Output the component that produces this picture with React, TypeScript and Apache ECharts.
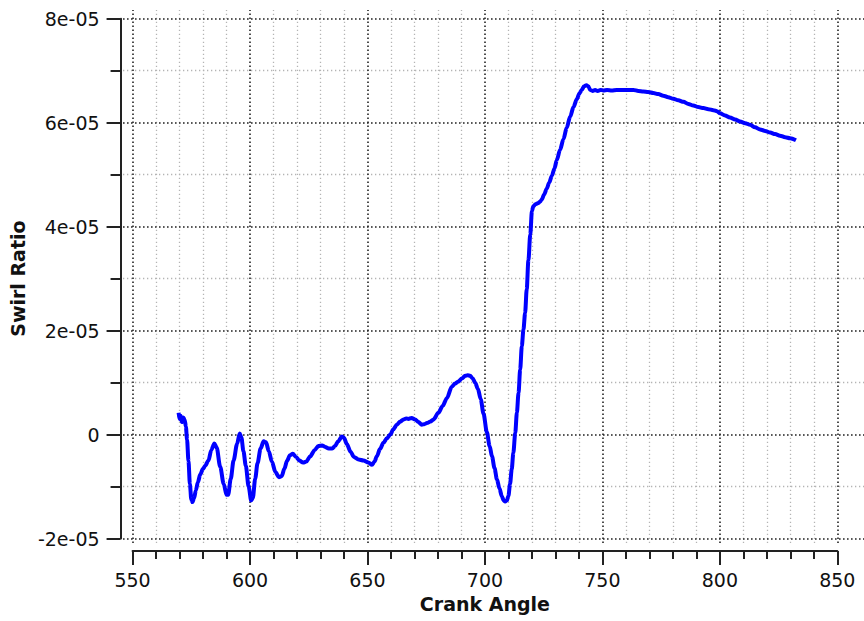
import { useEffect, useRef } from 'react';
import * as echarts from 'echarts';

const crankAngle = [
  569.6, 570.0, 570.5, 571.0, 571.6, 572.2, 572.7, 573.2, 573.8, 574.4, 575.0, 575.5, 576.2, 576.9, 577.8, 578.8,
  580.0, 580.9, 582.3, 583.5, 584.8, 585.8, 587.3, 588.8, 590.0, 590.7, 591.8, 593.0, 594.5, 595.6, 596.3, 597.2,
  598.2, 599.4, 600.5, 601.2, 602.2, 603.2, 604.5, 605.8, 606.8, 608.0, 609.3, 610.8, 612.3, 613.5, 614.6, 615.8,
  617.0, 618.2, 619.6, 621.0, 622.6, 624.0, 625.6, 627.5, 629.1, 630.7, 632.0, 633.5, 635.0, 636.2, 637.5, 639.1,
  640.0, 641.2, 642.8, 644.2, 646.2, 648.3, 650.4, 651.9, 653.0, 654.0, 655.3, 656.8, 658.3, 659.7, 661.0, 662.5,
  664.0, 665.3, 666.5, 667.4, 668.8, 670.3, 671.7, 673.1, 674.2, 675.3, 676.8, 678.1, 680.2, 682.0, 683.8, 685.9,
  687.3, 688.7, 690.2, 691.6, 692.6, 693.7, 694.8, 695.8, 697.0, 698.2, 699.4, 700.8, 702.0, 703.0, 704.1, 705.1,
  706.2, 707.2, 708.0, 708.6, 709.3, 710.0, 710.7, 711.4, 712.1, 712.9, 713.6, 714.3, 715.0, 715.7, 716.4, 717.1,
  717.8, 718.5, 719.3, 720.0, 720.6, 721.5, 722.5, 723.5, 724.2, 725.2, 726.3, 727.4, 728.5, 729.6, 730.6, 732.0,
  733.4, 734.8, 736.3, 737.7, 739.1, 740.2, 741.2, 742.2, 743.2, 744.0, 744.8, 745.8, 746.9, 748.0, 749.2, 750.4,
  752.0, 754.0, 756.1, 758.5, 761.0, 763.2, 765.3, 767.4, 769.5, 771.7, 773.8, 775.9, 778.0, 780.2, 782.3, 784.5,
  786.6, 788.7, 790.8, 793.0, 795.1, 797.2, 798.8, 800.1, 802.2, 804.3, 806.5, 808.6, 810.8, 812.9, 815.0, 817.1,
  819.3, 821.4, 823.5, 825.6, 827.8, 829.9, 832.4,
];

// Swirl ratio in units of 1e-5
const swirlE5 = [
  0.42, 0.30, 0.36, 0.24, 0.33, 0.28, 0.15, -0.10, -0.51, -0.95, -1.25, -1.30, -1.22, -1.08, -0.92, -0.77,
  -0.66, -0.60, -0.50, -0.30, -0.17, -0.25, -0.62, -0.95, -1.16, -1.16, -0.85, -0.50, -0.18, 0.02, -0.05, -0.32,
  -0.60, -1.00, -1.27, -1.22, -0.85, -0.55, -0.27, -0.13, -0.15, -0.32, -0.52, -0.72, -0.82, -0.80, -0.66, -0.50,
  -0.40, -0.37, -0.43, -0.50, -0.54, -0.52, -0.42, -0.30, -0.22, -0.21, -0.24, -0.27, -0.27, -0.22, -0.13, -0.04,
  -0.06, -0.18, -0.33, -0.43, -0.48, -0.50, -0.54, -0.58, -0.52, -0.42, -0.28, -0.16, -0.07, 0.00, 0.10, 0.19,
  0.25, 0.29, 0.31, 0.30, 0.32, 0.29, 0.24, 0.19, 0.20, 0.22, 0.25, 0.29, 0.42, 0.55, 0.70, 0.92,
  0.98, 1.02, 1.08, 1.13, 1.14, 1.13, 1.08, 1.00, 0.88, 0.68, 0.40, 0.05, -0.22, -0.42, -0.65, -0.86,
  -1.04, -1.19, -1.27, -1.29, -1.27, -1.18, -0.95, -0.67, -0.35, 0.03, 0.42, 0.80, 1.25, 1.70, 2.02, 2.34,
  2.80, 3.35, 3.85, 4.30, 4.39, 4.43, 4.45, 4.48, 4.52, 4.62, 4.73, 4.85, 4.98, 5.12, 5.28, 5.48,
  5.68, 5.90, 6.12, 6.30, 6.45, 6.56, 6.63, 6.70, 6.72, 6.70, 6.63, 6.61, 6.63, 6.61, 6.63, 6.62,
  6.63, 6.62, 6.63, 6.63, 6.63, 6.63, 6.61, 6.60, 6.59, 6.57, 6.55, 6.52, 6.49, 6.46, 6.43, 6.40,
  6.36, 6.33, 6.30, 6.28, 6.26, 6.24, 6.22, 6.18, 6.14, 6.10, 6.06, 6.02, 5.99, 5.96, 5.91, 5.87,
  5.84, 5.81, 5.78, 5.75, 5.72, 5.70, 5.66,
];

const xMajorTicks = [550, 600, 650, 700, 750, 800, 850];
const xMinorGrid = [
  560, 570, 580, 590, 610, 620, 630, 640, 660, 670, 680, 690, 710, 720, 730, 740,
  760, 770, 780, 790, 810, 820, 830, 840,
];
const yMajorTicksE5 = [-2, 0, 2, 4, 6, 8];
const yMinorGridE5 = [-1, 1, 3, 5, 7];
const yTickLabels = ['-2e-05', '0', '2e-05', '4e-05', '6e-05', '8e-05'];

const FONT = 'DejaVu Sans';
const AXIS_COLOR = '#222';
const TEXT_COLOR = '#111';

export default function App() {
  const ref = useRef<HTMLDivElement>(null);

  useEffect(() => {
    if (!ref.current) return;
    const chart = echarts.init(ref.current, undefined, { renderer: 'svg' });

    const majorStyle = { color: '#222', width: 1.6, type: [1.6, 2.4] as number[], opacity: 1 };
    const minorStyle = { color: '#b4b4b4', width: 1.3, type: [1.3, 2.7] as number[], opacity: 1 };

    // helper grid uses E5 units on its (hidden) y axis
    const gridLines: any[] = [
      ...xMinorGrid.map((v) => ({ xAxis: v, lineStyle: minorStyle })),
      ...yMinorGridE5.map((v) => ({ yAxis: v, lineStyle: minorStyle })),
      ...xMajorTicks.map((v) => ({ xAxis: v, lineStyle: majorStyle })),
      ...yMajorTicksE5.map((v) => ({ yAxis: v, lineStyle: majorStyle })),
    ];

    const option: any = {
      animation: false,
      backgroundColor: '#ffffff',
      grid: [
        { left: 132.3, right: 26.7, top: 18.7, bottom: 82.5 },
        { left: 123, right: 0, top: 10, bottom: 78 },
      ],
      xAxis: [
        {
          gridIndex: 0,
          type: 'value',
          min: xMajorTicks[0],
          max: xMajorTicks[xMajorTicks.length - 1],
          interval: 50,
          offset: 12.5,
          name: 'Crank Angle',
          nameLocation: 'middle',
          nameGap: 43,
          nameTextStyle: { fontFamily: FONT, fontSize: 19, fontWeight: 'bold', color: TEXT_COLOR },
          axisLine: { show: true, onZero: false, lineStyle: { color: AXIS_COLOR, width: 2 } },
          axisTick: { show: true, length: 14, lineStyle: { color: AXIS_COLOR, width: 2 } },
          minorTick: { show: true, splitNumber: 5, length: 8, lineStyle: { color: AXIS_COLOR, width: 2 } },
          axisLabel: { margin: 19, fontFamily: FONT, fontSize: 19, color: TEXT_COLOR },
          splitLine: { show: false },
        },
        {
          gridIndex: 1,
          type: 'value',
          min: 546.04,
          max: 861.36,
          show: false,
        },
      ],
      yAxis: [
        {
          gridIndex: 0,
          type: 'value',
          min: yMajorTicksE5[0] * 1e-5,
          max: yMajorTicksE5[yMajorTicksE5.length - 1] * 1e-5,
          interval: 2e-5,
          offset: 12,
          name: 'Swirl Ratio',
          nameLocation: 'middle',
          nameGap: 93,
          nameRotate: 90,
          nameTextStyle: { fontFamily: FONT, fontSize: 19, fontWeight: 'bold', color: TEXT_COLOR },
          axisLine: { show: true, onZero: false, lineStyle: { color: AXIS_COLOR, width: 2 } },
          axisTick: { show: true, length: 14, lineStyle: { color: AXIS_COLOR, width: 2 } },
          minorTick: { show: true, splitNumber: 2, length: 10, lineStyle: { color: AXIS_COLOR, width: 2 } },
          axisLabel: {
            margin: 21,
            fontFamily: FONT,
            fontSize: 19,
            color: TEXT_COLOR,
            formatter: (v: number) => {
              const idx = yMajorTicksE5.indexOf(Math.round(v * 1e5));
              return idx >= 0 ? yTickLabels[idx] : '';
            },
          },
          splitLine: { show: false },
        },
        {
          gridIndex: 1,
          type: 'value',
          min: -2.087,
          max: 8.167,
          show: false,
        },
      ],
      series: [
        {
          type: 'line',
          xAxisIndex: 1,
          yAxisIndex: 1,
          data: [[700, 0]],
          symbol: 'none',
          showSymbol: false,
          lineStyle: { opacity: 0 },
          silent: true,
          z: 1,
          markLine: {
            silent: true,
            precision: 6,
            symbol: ['none', 'none'],
            label: { show: false },
            emphasis: { disabled: true },
            animation: false,
            data: gridLines,
          },
        },
        {
          type: 'line',
          xAxisIndex: 0,
          yAxisIndex: 0,
          data: crankAngle.map((x, i) => [x, swirlE5[i] * 1e-5]),
          symbol: 'none',
          showSymbol: false,
          smooth: 0.3,
          smoothMonotone: 'x',
          clip: false,
          lineStyle: { color: '#0000ff', width: 4 },
          z: 5,
        },
      ],
    };

    chart.setOption(option);
    return () => chart.dispose();
  }, []);

  return (
    <div
      ref={ref}
      style={{ position: 'fixed', left: 0, top: 0, width: 864, height: 621, background: '#fff' }}
    />
  );
}
